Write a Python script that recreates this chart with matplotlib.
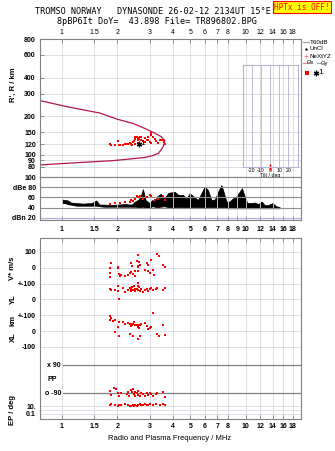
import numpy as np
import matplotlib.pyplot as plt
from matplotlib.lines import Line2D
from matplotlib.ticker import NullLocator, FixedLocator, FixedFormatter

plt.rcParams['font.family'] = ['Liberation Sans', 'DejaVu Sans']

# frequency ticks (MHz)
top_ticks = [1, 1.5, 2, 3, 4, 5, 6, 7, 8, 10, 12, 14, 16, 18]
db_ticks = [1, 1.5, 2, 3, 4, 5, 6, 7, 8, 9, 10, 12, 14, 16, 18]
h_ticks = [80, 90, 100, 120, 150, 200, 300, 400, 600, 800]

# model profile (upper branch -> nose -> lower branch)
prof_f = [0.76, 0.9, 1.06, 1.3, 1.61, 2.0, 2.44, 2.83, 3.2, 3.47, 3.63,
          3.6, 3.55, 3.45, 3.34, 3.1, 2.83, 2.29, 1.86, 1.51, 1.06, 0.76]
prof_r = [264, 250, 237, 224, 211, 189, 175, 160, 147, 138, 129,
          121, 115, 108, 102, 98, 95, 92, 89.5, 88, 85.5, 83]

# echoes R' (km)
echo_f = [1.82, 1.84, 1.94, 2.04, 2.07, 2.15, 2.20, 2.25, 2.29, 2.34,
          2.39, 2.41, 2.44, 2.47, 2.49, 2.49, 2.51, 2.55, 2.58, 2.60,
          2.60, 2.63, 2.65, 2.69, 2.71, 2.77, 2.83, 2.83, 2.89, 2.95,
          2.95, 3.01, 3.05, 3.07, 3.13, 3.20, 3.27, 3.34, 3.47, 3.55,
          3.59, 3.63, 2.02, 3.07, 3.41]
echo_r = [121, 119, 119, 118, 119, 119, 120, 122, 122, 124,
          121, 119, 126, 128, 133, 121, 136, 138, 135, 130,
          124, 132, 138, 136, 131, 128, 126, 135, 130, 131,
          138, 126, 124, 141, 138, 133, 128, 124, 130, 131,
          126, 121, 128, 148, 130]
star_f = [2.63]
star_r = [122]

# amplitude trace (dB)
db_f = [1.00, 1.04, 1.08, 1.12, 1.2, 1.3, 1.45, 1.54, 1.6, 1.7,
        1.85, 2.0, 2.2, 2.4, 2.5, 2.62, 2.7, 2.76, 2.85, 3.0,
        3.1, 3.2, 3.3, 3.45, 3.6, 3.8, 4.11, 4.3, 4.56, 4.76,
        4.96, 5.28, 5.5, 5.74, 5.98, 6.24, 6.5, 6.8, 7.07, 7.38,
        7.62, 7.85, 8.18, 8.52, 8.89, 9.27, 9.54, 9.87, 10.2, 10.7,
        11.2, 11.7, 12.2, 12.7, 13.2, 14.0, 14.6, 15.3]
db_hi = [56, 55, 54, 50, 49, 48, 49, 54, 46, 46,
         45, 46, 47, 46, 52, 56, 65, 76, 55, 49,
         55, 52, 62, 67, 58, 69, 71, 65, 65, 58,
         68, 60, 55, 68, 81, 74, 55, 56, 71, 84,
         68, 52, 52, 58, 62, 71, 78, 62, 49, 49,
         50, 47, 52, 45, 45, 49, 43, 41]
db_lo = [49, 49, 47, 46, 44, 44, 44, 44, 43, 42,
         42, 42, 42, 42, 42, 41, 41, 42, 40, 40,
         43, 42, 41, 42, 43, 41, 41, 41, 41, 41,
         41, 41, 41, 41, 41, 41, 41, 41, 41, 41,
         41, 39, 39, 39, 39, 39, 39, 39, 39, 39,
         39, 39, 39, 39, 39, 39, 39, 39]
dbr_f = [1.82, 1.94, 2.07, 2.20, 2.34, 2.39, 2.45, 2.49, 2.55, 2.60,
         2.65, 2.75, 2.89, 3.0, 3.07, 3.20, 3.34, 3.55, 3.63]
dbr_v = [47, 49, 50, 52, 52, 56, 54, 58, 62, 60,
         63, 58, 60, 64, 62, 56, 58, 62, 55]

# V* (m/s)
vs_f = [1.85, 1.82, 1.82, 1.82, 2.01, 2.02, 2.04, 2.09, 2.20, 2.29,
        2.34, 2.39, 2.41, 2.39, 2.44, 2.49, 2.55, 2.58, 2.58, 2.60,
        2.60, 2.63, 2.65, 2.83, 2.89, 2.95, 2.95, 3.01, 3.07, 3.13,
        3.17, 3.31, 3.36, 3.55, 3.63, 2.49, 2.07]
vs_v = [33, -2, -33, -58, 4, 0, -37, -44, -50, -44,
        -33, 29, 12, -29, -37, -23, 40, 81, 12, 8,
        -23, 35, 19, -17, 29, 19, -23, -33, 46, -17,
        -44, 87, 75, 19, 8, -50, -50]

# YL (km)
yl_f = [1.82, 1.85, 1.94, 2.01, 2.02, 2.04, 2.15, 2.20, 2.29, 2.34,
        2.37, 2.39, 2.41, 2.44, 2.47, 2.49, 2.51, 2.55, 2.58, 2.60,
        2.60, 2.63, 2.65, 2.71, 2.77, 2.83, 2.89, 2.95, 3.01, 3.05,
        3.13, 3.25, 3.31, 3.55, 3.63]
yl_v = [67, 58, 62, 87, 52, 4, 73, 46, 62, 73,
        52, 67, 79, 62, 83, 67, 52, 67, 87, 104,
        62, 77, 52, 67, 46, 58, 67, 52, 67, 73,
        58, 67, 73, 62, 73]

# XL (km)
xl_f = [1.82, 1.85, 1.82, 1.90, 1.94, 2.01, 2.04, 2.15, 2.20, 2.29,
        2.34, 2.37, 2.39, 2.41, 2.44, 2.47, 2.49, 2.55, 2.58, 2.60,
        2.63, 2.65, 2.71, 2.83, 2.89, 2.95, 3.01, 3.07, 3.13, 3.31,
        3.36, 3.55, 3.63, 2.04, 2.34, 2.44, 2.60, 2.65, 1.94]
xl_v = [96, 85, 71, 65, 71, 23, 58, 58, 44, 50,
        44, 33, 44, 38, 44, 58, 38, 38, 38, 23,
        17, 38, 44, 54, 33, 12, 17, 23, 117, -19,
        -33, 38, -25, -33, -19, -33, -50, -29, -4]

# PP (deg)
pp_f = [1.82, 1.85, 1.93, 1.96, 2.02, 2.04, 2.10, 2.25, 2.29, 2.32,
        2.37, 2.41, 2.44, 2.47, 2.49, 2.51, 2.55, 2.58, 2.60, 2.65,
        2.71, 2.77, 2.83, 2.89, 2.95, 3.01, 3.07, 3.13, 3.25, 3.31,
        3.55, 3.63]
pp_v = [-75, -103, -60, -66, -92, -109, -88, -96, -82, -109,
        -71, -82, -66, -96, -109, -82, -92, -103, -75, -109,
        -88, -96, -109, -92, -103, -88, -96, -109, -96, -88,
        -82, -114]

# EP (deg)
ep_f = [1.82, 1.85, 1.94, 2.01, 2.04, 2.10, 2.20, 2.29, 2.34, 2.39,
        2.44, 2.47, 2.49, 2.55, 2.60, 2.65, 2.71, 2.77, 2.83, 2.89,
        2.95, 3.01, 3.13, 3.25, 3.42, 3.55, 3.63]
ep_v = [18, 31, 18, 10, 18, 18, 31, 18, 10, 10,
        18, 10, 18, 10, 18, 31, 18, 18, 31, 18,
        18, 31, 18, 31, 18, 31, 18]

tilt_x = [0]

W, H = 335, 451
FRAME = '#808080'
GRID = '#d8d8e0'
RED = '#ff0000'
FS = 5


def box(x0, y0, x1, y1):
    return [x0 / W, 1 - y1 / H, (x1 - x0) / W, (y1 - y0) / H]


def fx(x):
    return x / W


def fy(y):
    return 1 - y / H


# lower panel row positions (one row = one grid step)
def u_vs(v):
    return 5 + np.asarray(v) / 100.0


def u_yl(v):
    return 3 + np.asarray(v) / 100.0


def u_xl(v):
    return 1 + np.asarray(v) / 100.0


def u_pp(v):
    return -2.025 + np.asarray(v) / 90.0 * 0.885


def u_ep(v):
    return -3.98 + np.log10(np.asarray(v)) * 0.25


def freq_axis(ax, ticks):
    ax.set_xscale('log')
    ax.set_xlim(0.76, 20)
    ax.xaxis.set_major_locator(FixedLocator(ticks))
    ax.xaxis.set_major_formatter(FixedFormatter(['%g' % t for t in ticks]))
    ax.xaxis.set_minor_locator(NullLocator())
    for s in ax.spines.values():
        s.set_color(FRAME)
        s.set_linewidth(0.8)
    ax.tick_params(labelsize=FS, colors=FRAME, labelcolor='black',
                   length=3, width=0.6, direction='in')
    for lab in ax.get_xticklabels() + ax.get_yticklabels():
        lab.set_fontweight('bold')


fig = plt.figure(figsize=(3.35, 4.51), dpi=100)

# ---- height panel
ax_h = fig.add_axes(box(40, 39, 301, 177))
ax_h.set_yscale('log')
ax_h.set_ylim(66.8, 800)
ax_h.yaxis.set_major_locator(FixedLocator(h_ticks))
ax_h.yaxis.set_major_formatter(FixedFormatter([str(t) for t in h_ticks]))
ax_h.yaxis.set_minor_locator(NullLocator())
freq_axis(ax_h, top_ticks)
ax_h.xaxis.tick_top()
ax_h.tick_params(axis='x', pad=2)
ax_h.tick_params(axis='y', pad=3)
ax_h.grid(True, color=GRID, lw=0.6)
ax_h.plot(prof_f, prof_r, color='#b3174a', lw=0.9)
ax_h.plot(echo_f, echo_r, 's', ms=2, mew=0, color=RED)
ax_h.plot(star_f, star_r, marker=(6, 2, 0), ms=4, mew=0.9, color='black', ls='none')
ax_h.text(star_f[0] * 1.02, star_r[0], '1', fontsize=6, va='center', ha='left')

# tilt inset
ax_t = fig.add_axes(box(242.5, 65, 297.5, 167))
ax_t.patch.set_alpha(0)
ax_t.set_xlim(-30, 30)
ax_t.set_ylim(0, 1)
ax_t.set_yticks([])
ax_t.set_xticks([-20, -10, 0, 10, 20])
ax_t.set_xticklabels(['-20', '-10', '0', '10', '20'])
ax_t.tick_params(labelsize=3.8, length=0, pad=0.5)
ax_t.grid(True, axis='x', color='#b4b4cc', lw=0.6)
for s in ax_t.spines.values():
    s.set_color('#b4b4cc')
    s.set_linewidth(0.8)
ax_t.set_xlabel('Tilt / deg', fontsize=3.8, labelpad=0)
ax_t.plot(tilt_x, [0] * len(tilt_x), marker='|', ms=4, mew=1, color=RED,
          ls='none', clip_on=False)

# ---- amplitude panel
ax_d = fig.add_axes(box(40, 177, 301, 220))
ax_d.set_ylim(16, 100)
ax_d.set_yticks([20, 40, 60, 80, 100])
ax_d.set_yticklabels(['dBn 20', '40', '60', 'dBe 80', '100'])
freq_axis(ax_d, db_ticks)
ax_d.tick_params(axis='x', pad=4.5, top=False)
ax_d.tick_params(axis='y', pad=3, length=0)
ax_d.grid(True, axis='x', color=GRID, lw=0.6)
for lev in [40, 60, 80]:
    ax_d.axhline(lev, color='#8c8c8c', lw=0.8)
ax_d.axhline(20, color='#aaaadd', lw=0.8)
ax_d.fill_between(db_f, db_lo, db_hi, color='black', lw=0.6)
ax_d.plot(dbr_f, dbr_v, 's', ms=2, mew=0, color=RED)

# ---- lower panel
ax_l = fig.add_axes(box(40, 238, 301, 419))
ax_l.set_ylim(-4.55, 6.88)
lo_pos = [float(u_vs(100)), float(u_vs(0)), float(u_vs(-100)), float(u_yl(0)),
          float(u_yl(-100)), float(u_xl(0)), float(u_xl(-100)),
          float(u_ep(10)), float(u_ep(1)), float(u_ep(0.1))]
lo_lab = ['100', '0', '+-100', '0', '+-100', '0', '-100', '10.', '', '0.1']
ax_l.set_yticks(lo_pos)
ax_l.set_yticklabels(lo_lab)
freq_axis(ax_l, top_ticks)
ax_l.tick_params(axis='x', top=True, pad=3)
ax_l.tick_params(axis='y', pad=3, length=0)
ax_l.grid(True, color=GRID, lw=0.6)
ax_l.axhline(float(u_pp(90)), xmin=0.088, color='#808080', lw=0.9)
ax_l.axhline(float(u_pp(-90)), xmin=0.088, color='#808080', lw=0.9)
ytr = ax_l.get_yaxis_transform()
ax_l.text(0.08, float(u_pp(90)), 'x 90', transform=ytr, ha='right', va='center',
          fontsize=FS, fontweight='bold')
ax_l.text(0.08, float(u_pp(-90)), 'o -90', transform=ytr, ha='right', va='center',
          fontsize=FS, fontweight='bold')
ax_l.text(0.027, float(u_pp(0)), 'PP', transform=ytr, ha='left', va='center',
          fontsize=FS, fontweight='bold')
ax_l.plot(vs_f, u_vs(vs_v), 's', ms=2, mew=0, color=RED)
ax_l.plot(yl_f, u_yl(yl_v), 's', ms=2, mew=0, color=RED)
ax_l.plot(xl_f, u_xl(xl_v), 's', ms=2, mew=0, color=RED)
ax_l.plot(pp_f, u_pp(pp_v), 's', ms=2, mew=0, color=RED)
ax_l.plot(ep_f, u_ep(ep_v), 's', ms=2, mew=0, color=RED)

# ---- axis titles
lab = dict(fontsize=5.5, fontweight='bold', rotation=90, ha='center', va='center')
fig.text(fx(13), fy(85), "R', R / km", **lab)
fig.text(fx(13), fy(268), 'V* m/s', **lab)
fig.text(fx(13), fy(299), 'YL', **lab)
fig.text(fx(13), fy(320), 'km', **lab)
fig.text(fx(13), fy(337), 'XL', **lab)
fig.text(fx(13), fy(410), 'EP / deg', **lab)
fig.text(fx(170), fy(439), 'Radio and Plasma Frequency / MHz', fontsize=5.5,
         ha='center', va='center')

# ---- header
mono = dict(family='DejaVu Sans Mono', fontsize=6.1, va='center', ha='left')
fig.text(fx(35), fy(12), 'TROMSO NORWAY   DYNASONDE 26-02-12 2134UT 15\u00b0E', **mono)
fig.text(fx(57), fy(21), '8pBP6It DoY=  43.898 File= TR896802.BPG', **mono)
fig.text(fx(274), fy(7), 'HPTx is OFF!', color=RED, family='DejaVu Sans Mono',
         fontsize=5.6, va='center', ha='left',
         bbox=dict(facecolor='#ffff00', edgecolor=RED, lw=0.8, pad=0.8))

# ---- legend
fig.add_artist(Line2D([fx(303), fx(309)], [fy(42)] * 2, color='#a0a0a0', lw=0.9))
fig.text(fx(310), fy(42), 'T60dB', fontsize=4.5, va='center')
fig.add_artist(Line2D([fx(306)], [fy(49)], marker='.', ms=1.5, color='black'))
fig.text(fx(310), fy(49), 'UnCl', fontsize=4.5, va='center')
fig.add_artist(Line2D([fx(306)], [fy(56)], marker='+', ms=3, mew=0.6, color='#f080a0'))
fig.text(fx(310), fy(56), 'NeXtYZ', fontsize=4.5, va='center')
fig.add_artist(Line2D([fx(303), fx(306.5)], [fy(63)] * 2, color='#f080a0', lw=0.9))
fig.text(fx(307), fy(63), '\u0398x', fontsize=4.2, va='center')
fig.add_artist(Line2D([fx(316.5), fx(320)], [fy(63)] * 2, color='#a0a0e0', lw=0.9))
fig.text(fx(320.5), fy(63), '\u0398y', fontsize=4.2, va='center')
fig.add_artist(Line2D([fx(307)], [fy(73)], marker='s', ms=2.2, mew=0, color=RED))
fig.add_artist(Line2D([fx(316)], [fy(73)], marker=(6, 2, 0), ms=4, mew=0.9, color='black'))
fig.text(fx(318.5), fy(73), '1', fontsize=6, va='center')

fig.savefig('out.png', dpi=100)
